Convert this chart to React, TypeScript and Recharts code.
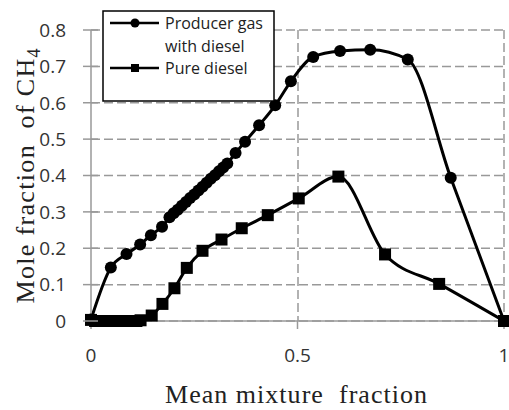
import { LineChart, Line, XAxis, YAxis, CartesianGrid } from 'recharts';

// Producer gas with diesel (circle markers)
const gasX = [0, 0.048, 0.086, 0.119, 0.145, 0.172, 0.19, 0.2, 0.21, 0.22, 0.23, 0.24, 0.25, 0.26, 0.27, 0.28, 0.29, 0.3, 0.31, 0.32, 0.33, 0.35, 0.373, 0.407, 0.446, 0.484, 0.538, 0.603, 0.676, 0.767, 0.871, 1];
const gasY = [0.004, 0.147, 0.184, 0.21, 0.236, 0.259, 0.285, 0.296, 0.306, 0.317, 0.327, 0.338, 0.348, 0.359, 0.369, 0.38, 0.391, 0.401, 0.412, 0.422, 0.433, 0.462, 0.493, 0.538, 0.593, 0.659, 0.726, 0.742, 0.746, 0.719, 0.394, 0];

// Pure diesel (square markers)
const dieselX = [0, 0.01, 0.02, 0.03, 0.04, 0.05, 0.06, 0.07, 0.08, 0.09, 0.1, 0.11, 0.12, 0.147, 0.173, 0.202, 0.232, 0.27, 0.316, 0.365, 0.428, 0.503, 0.599, 0.712, 0.843, 1];
const dieselY = [0.003, 0, 0, 0, 0, 0, 0, 0, 0, 0, 0, 0, 0.002, 0.015, 0.047, 0.09, 0.146, 0.193, 0.224, 0.255, 0.291, 0.337, 0.397, 0.183, 0.102, 0];

const xTicks = [0, 0.5, 1];
const yTicks = [0, 0.1, 0.2, 0.3, 0.4, 0.5, 0.6, 0.7, 0.8];
const legendLines = [['Producer gas', 'with diesel'], ['Pure diesel']];

const gasData = gasX.map((x, i) => ({ x, y: gasY[i] }));
const dieselData = dieselX.map((x, i) => ({ x, y: dieselY[i] }));

const GRID = '#999999';
const TICK_FONT = '"Open Sans", sans-serif';
const TITLE_FONT = '"Liberation Serif", "Times New Roman", serif';

// eslint-disable-next-line @typescript-eslint/no-explicit-any
const circleDot = (p: any) => <circle key={`c${p.index}`} cx={p.cx} cy={p.cy} r={6} fill="#000" />;
// eslint-disable-next-line @typescript-eslint/no-explicit-any
const squareDot = (p: any) => <rect key={`s${p.index}`} x={p.cx - 6} y={p.cy - 6} width={12} height={12} fill="#000" />;

// y tick: label plus a short mark crossing the axis
// eslint-disable-next-line @typescript-eslint/no-explicit-any
const YTick = (p: any) => {
  const axisX = p.x + 24;
  return (
    <g>
      <line x1={axisX - 8} x2={axisX + 7} y1={p.y} y2={p.y} stroke={GRID} strokeWidth={1.5} />
      <text x={p.x - 1} y={p.y} dy="0.36em" textAnchor="end" fontSize={19} fontFamily={TICK_FONT} fill="#333">
        {p.payload.value}
      </text>
    </g>
  );
};

// eslint-disable-next-line @typescript-eslint/no-explicit-any
const XTick = (p: any) => (
  <text x={p.x} y={p.y} dy="0.71em" textAnchor="middle" fontSize={19} fontFamily={TICK_FONT} fill="#333">
    {p.payload.value}
  </text>
);

function LegendBox() {
  return (
    <svg width={173} height={92} style={{ position: 'absolute', left: 102, top: 10 }}>
      <rect x={1} y={1} width={171} height={90} fill="#fff" stroke="#000" strokeWidth={1.5} />
      <line x1={8} x2={57} y1={13} y2={13} stroke="#000" strokeWidth={2.5} />
      <circle cx={33} cy={13} r={4.5} fill="#000" />
      <line x1={8} x2={57} y1={58} y2={58} stroke="#000" strokeWidth={2.5} />
      <rect x={29} y={54} width={8} height={8} fill="#000" />
      <text x={63} y={13} dy="0.36em" fontSize={16} fontFamily={TICK_FONT} fill="#222">{legendLines[0][0]}</text>
      <text x={63} y={36} dy="0.36em" fontSize={16} fontFamily={TICK_FONT} fill="#222">{legendLines[0][1]}</text>
      <text x={63} y={58} dy="0.36em" fontSize={16} fontFamily={TICK_FONT} fill="#222">{legendLines[1][0]}</text>
    </svg>
  );
}

export default function App() {
  return (
    <div style={{ position: 'absolute', left: 0, top: 0, width: 509, height: 410, background: '#fff' }}>
      <LineChart width={509} height={410} margin={{ top: 30, right: 5, bottom: 0, left: 0 }}>
        <CartesianGrid stroke={GRID} strokeWidth={1.5} strokeDasharray="9 4" verticalPoints={[298, 504]} />
        <XAxis
          type="number"
          dataKey="x"
          domain={[0, 1]}
          ticks={xTicks}
          height={89}
          stroke={GRID}
          strokeWidth={1.5}
          tickSize={8}
          tickMargin={20}
          tick={XTick}
        />
        <YAxis
          type="number"
          domain={[0, 0.8]}
          ticks={yTicks}
          width={91}
          stroke={GRID}
          strokeWidth={1.5}
          tickLine={false}
          tickSize={8}
          tickMargin={16}
          tick={YTick}
        />
        <Line data={gasData} dataKey="y" name="Producer gas with diesel" type="monotone" stroke="#000" strokeWidth={3} dot={circleDot} isAnimationActive={false} />
        <Line data={dieselData} dataKey="y" name="Pure diesel" type="monotone" stroke="#000" strokeWidth={3} dot={squareDot} isAnimationActive={false} />
      </LineChart>
      <svg width={509} height={410} style={{ position: 'absolute', left: 0, top: 0, pointerEvents: 'none' }}>
        <text x={296} y={403} textAnchor="middle" fontSize={26} fontFamily={TITLE_FONT} fill="#222" textLength={262} lengthAdjust="spacing" style={{ whiteSpace: 'pre' }}>
          Mean mixture  fraction
        </text>
        <text transform="translate(34,176) rotate(-90)" textAnchor="middle" fontSize={26} fontFamily={TITLE_FONT} fill="#222" textLength={255} lengthAdjust="spacing" style={{ whiteSpace: 'pre' }}>
          Mole fraction  of CH<tspan fontSize={18} dy={6}>4</tspan>
        </text>
      </svg>
      <LegendBox />
    </div>
  );
}
